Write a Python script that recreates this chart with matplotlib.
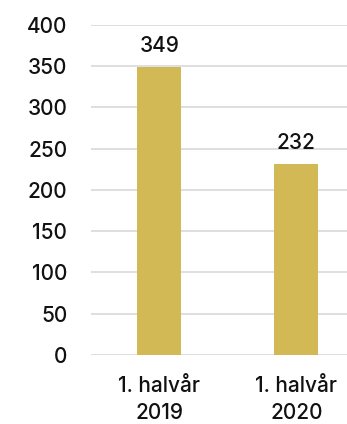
import matplotlib.pyplot as plt

categories = ["1. halvår\n2019", "1. halvår\n2020"]
values = [349, 232]
yticks = [0, 50, 100, 150, 200, 250, 300, 350, 400]

plt.rcParams['font.family'] = ['Inter', 'DejaVu Sans']
plt.rcParams['font.weight'] = 'medium'

fig = plt.figure(figsize=(3.47, 4.24), dpi=100)
ax = fig.add_axes([0.262, 0.163, 0.738, 0.778])

x = list(range(len(values)))
bars = ax.bar(x, values, width=0.32, color="#D3B856", zorder=3)
for b, v in zip(bars, values):
    ax.text(b.get_x() + b.get_width() / 2, v + 13, str(v), ha="center", va="bottom",
            fontsize=15, color="#111111")

ax.set_ylim(0, 400)
ax.set_xlim(-0.5, 1.37)
ax.set_yticks(yticks)
ax.set_yticklabels([str(t) for t in yticks], fontsize=15, color="#111111")
ax.set_xticks(x)
ax.set_xticklabels(categories, fontsize=15, color="#111111", linespacing=1.45)
ax.tick_params(axis="both", length=0)
ax.tick_params(axis="y", pad=17)
ax.tick_params(axis="x", pad=15)
ax.yaxis.grid(True, color="#d9d9d9", linewidth=1.2, zorder=0)
for s in ax.spines.values():
    s.set_visible(False)

fig.savefig("out.png", dpi=100)
